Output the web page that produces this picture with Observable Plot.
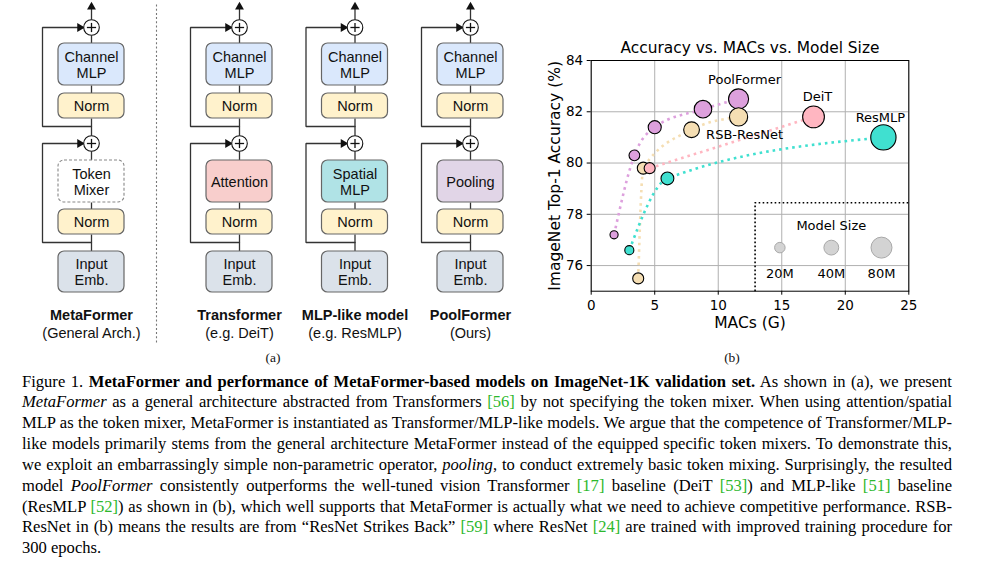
<!DOCTYPE html>
<html><head><meta charset="utf-8">
<script src="https://cdn.jsdelivr.net/npm/d3@7"></script>
<script src="https://cdn.jsdelivr.net/npm/@observablehq/plot@0.6"></script>
<style>
body{margin:0;background:#fff;width:986px;height:562px;position:relative;overflow:hidden;}
#diagram{position:absolute;left:0;top:0;width:540px;}
#chart{position:absolute;left:540px;top:30px;width:390px;}
.sub{position:absolute;font-family:"Liberation Serif",serif;font-size:13.5px;color:#111;transform:translate(-50%,-50%);}
#caption{position:absolute;left:22px;top:371.5px;width:930px;font-family:"Liberation Serif",serif;font-size:16.6px;line-height:20.85px;color:#000;}
#caption div{white-space:nowrap;text-align:left;text-align-last:left;transform-origin:left center;}
#caption div.just{text-align:justify;text-align-last:justify;}
.c{color:#2db82d;}
</style></head>
<body>
<div id="diagram"></div>
<div id="chart"></div>
<div class="sub" style="left:273px;top:358px">(a)</div>
<div class="sub" style="left:732px;top:358px">(b)</div>
<div id="caption"></div>
<script>
// ---------------- chart data ----------------
const families = ["PoolFormer", "RSB-ResNet", "DeiT", "ResMLP"];
const familyColors = ["#DDA0DD", "#F5DEB3", "#FFB6C1", "#40E0D0"];
const poolMACs = [1.8, 3.4, 5.0, 8.8, 11.6];
const poolAcc = [77.2, 80.3, 81.4, 82.1, 82.5];
const poolParams = [12, 21, 31, 56, 73];
const rsbMACs = [3.7, 4.1, 7.9, 11.6];
const rsbAcc = [75.5, 79.8, 81.3, 81.8];
const rsbParams = [22, 26, 45, 60];
const deitMACs = [4.6, 17.5];
const deitAcc = [79.8, 81.8];
const deitParams = [22, 86];
const resmlpMACs = [3.0, 6.0, 23.0];
const resmlpAcc = [76.6, 79.4, 81.0];
const resmlpParams = [15, 30, 116];
const xTicks = [0, 5, 10, 15, 20, 25];
const yTicks = [76, 78, 80, 82, 84];
const legendSizes = [20, 40, 80];
const legendLabels = ["20M", "40M", "80M"];

// ---------------- diagram data ----------------
const archNames = ["MetaFormer", "Transformer", "MLP-like model", "PoolFormer"];
const archSubtitles = ["(General Arch.)", "(e.g. DeiT)", "(e.g. ResMLP)", "(Ours)"];
const mixerLabels = ["Token\nMixer", "Attention", "Spatial\nMLP", "Pooling"];
const mixerFills = ["#ffffff", "#f8cecc", "#b0e3e6", "#e1d5e7"];

// ---------------- chart ----------------
const points = [];
function addFamily(name, macs, acc, params) {
  macs.forEach((m, i) => points.push({family: name, macs: m, acc: acc[i], params: params[i]}));
}
addFamily("PoolFormer", poolMACs, poolAcc, poolParams);
addFamily("RSB-ResNet", rsbMACs, rsbAcc, rsbParams);
addFamily("DeiT", deitMACs, deitAcc, deitParams);
addFamily("ResMLP", resmlpMACs, resmlpAcc, resmlpParams);

const lastPoints = families.map(f => points.filter(p => p.family === f).at(-1));
const labelOffsets = {"PoolFormer": [6, -19], "RSB-ResNet": [6, 18], "DeiT": [4, -20], "ResMLP": [-3, -20]};

// legend layout in data units
const legendCornerX = 12.9, legendTopY = 78.45;
const legendXs = [14.85, 18.9, 22.85];
const legendRows = legendSizes.map((s, i) => ({size: s, label: legendLabels[i], x: legendXs[i]}));

const font = "DejaVu Sans";
const chart = Plot.plot({
  width: 390, height: 303,
  marginLeft: 50.7, marginRight: 21.7, marginTop: 30, marginBottom: 42.3,
  style: {fontFamily: font, fontSize: "13.5px", color: "#000", background: "transparent"},
  x: {domain: [0, 25]},
  y: {domain: [75, 84]},
  r: {type: "sqrt", domain: [0, 80], range: [0, 10.5]},
  color: {domain: families, range: familyColors},
  marks: [
    Plot.gridX(xTicks, {stroke: "#b0b0b0", strokeOpacity: 1, strokeWidth: 1}),
    Plot.gridY(yTicks, {stroke: "#b0b0b0", strokeOpacity: 1, strokeWidth: 1}),
    Plot.axisX({ticks: xTicks, tickSize: 4, tickPadding: 5, label: null, fontSize: 13.5}),
    Plot.axisY({ticks: yTicks, tickSize: 4, tickPadding: 4, label: null, fontSize: 13.5}),
    Plot.line([{x: legendCornerX, y: 75}, {x: legendCornerX, y: legendTopY}, {x: 25, y: legendTopY}],
      {x: "x", y: "y", stroke: "#000", strokeWidth: 1.6, strokeDasharray: "1.6,2.4", strokeLinecap: "butt"}),
    Plot.text(["Model Size"], {x: legendXs[1], y: 77.56, fontSize: 13, fill: "#000"}),
    Plot.dot(legendRows, {x: "x", y: 76.7, r: "size", fill: "#d3d3d3", stroke: "#a8a8a8", strokeWidth: 1}),
    Plot.text(legendRows, {x: "x", y: 75.69, text: "label", fontSize: 13, fill: "#000"}),
    Plot.line(points, {x: "macs", y: "acc", z: "family", stroke: "family", curve: "monotone-x",
      strokeWidth: 2.6, strokeDasharray: "2.6,4", strokeLinecap: "butt"}),
    Plot.dot(points, {x: "macs", y: "acc", r: "params", fill: "family", stroke: "#000", strokeWidth: 1.1}),
    ...families.map((f, i) => Plot.text([lastPoints[i]], {x: "macs", y: "acc", text: d => d.family,
      dx: labelOffsets[f][0], dy: labelOffsets[f][1], fontSize: 13, fill: "#000"})),
    Plot.frame({stroke: "#000", strokeWidth: 1}),
    Plot.text(["Accuracy vs. MACs vs. Model Size"], {frameAnchor: "top", lineAnchor: "middle", dy: -12, fontSize: 15.4, fill: "#000"}),
    Plot.text(["ImageNet Top-1 Accuracy (%)"], {frameAnchor: "left", textAnchor: "middle", lineAnchor: "middle", rotate: -90, dx: -36.5, fontSize: 15.5, fill: "#000"}),
    Plot.text(["MACs (G)"], {frameAnchor: "bottom", lineAnchor: "middle", dy: 32, fontSize: 15.5, fill: "#000"})
  ]
});
document.getElementById("chart").append(chart);

// ---------------- diagram ----------------
const colX = i => i === 0 ? 91 : 239 + (i - 1) * 115.5;
const halfW = 33;
const L = {plus1: 27, chTop: 43, chBot: 85, n1Top: 93, n1Bot: 118, br1: 126, plus2: 143,
  mxTop: 160, mxBot: 202, n2Top: 209, n2Bot: 234, br2: 242, inTop: 251, inBot: 292,
  skipDx: 49, plusR: 7.8, name: 315, subtitle: 333};

const boxes = [], dashedBoxes = [], segs = [], plusMarks = [], skips = [], plusses = [], arrowsR = [], arrowsU = [], nameTexts = [];
archNames.forEach((name, i) => {
  const cx = colX(i);
  const mk = (y1, y2, fill, label) => ({x1: cx - halfW, x2: cx + halfW, y1, y2, fill, label, cx, cy: (y1 + y2) / 2});
  boxes.push(mk(L.chTop, L.chBot, "#dae8fc", "Channel\nMLP"));
  boxes.push(mk(L.n1Top, L.n1Bot, "#fff2cc", "Norm"));
  const mixer = mk(L.mxTop, L.mxBot, mixerFills[i], mixerLabels[i]);
  if (i === 0) dashedBoxes.push(mixer); else boxes.push(mixer);
  boxes.push(mk(L.n2Top, L.n2Bot, "#fff2cc", "Norm"));
  boxes.push(mk(L.inTop, L.inBot, "#dbe2ea", "Input\nEmb."));
  [[5, L.plus1 - L.plusR], [L.plus1 + L.plusR, L.chTop], [L.chBot, L.n1Top], [L.n1Bot, L.plus2 - L.plusR],
   [L.plus2 + L.plusR, L.mxTop], [L.mxBot, L.n2Top], [L.n2Bot, L.inTop]].forEach(([a, b]) =>
    segs.push({x1: cx, y1: a, x2: cx, y2: b}));
  [L.plus1, L.plus2].forEach(py => {
    plusses.push({x: cx, y: py});
    plusMarks.push({x1: cx - 4.6, y1: py, x2: cx + 4.6, y2: py});
    plusMarks.push({x1: cx, y1: py - 4.6, x2: cx, y2: py + 4.6});
  });
  [[L.br1, L.plus1], [L.br2, L.plus2]].forEach(([by, py], k) => {
    const id = name + k;
    const tipX = cx - L.plusR - 0.5;
    [[cx, by], [cx - L.skipDx, by], [cx - L.skipDx, py], [tipX - 5, py]].forEach(([x, y]) => skips.push({id, x, y}));
    arrowsR.push({x: tipX - 3.4, y: py});
  });
  arrowsU.push({x: cx, y: 6.5});
  nameTexts.push({x: cx, name, sub: archSubtitles[i]});
});
const boxTexts = [...boxes, ...dashedBoxes];

const ink = "#333";
const diagram = Plot.plot({
  width: 540, height: 345, margin: 0,
  style: {fontFamily: "Liberation Sans", fontSize: "14.5px", background: "transparent"},
  x: {axis: null, domain: [0, 540], range: [0, 540]},
  y: {axis: null, domain: [0, 345], range: [0, 345]},
  marks: [
    Plot.link([{x1: 156, y1: 4, x2: 156, y2: 343}], {x1: "x1", y1: "y1", x2: "x2", y2: "y2", stroke: "#777", strokeWidth: 1.1, strokeDasharray: "2,2.2"}),
    Plot.link(segs, {x1: "x1", y1: "y1", x2: "x2", y2: "y2", stroke: ink, strokeWidth: 1.3}),
    Plot.line(skips, {x: "x", y: "y", z: "id", stroke: ink, strokeWidth: 1.3, strokeLinejoin: "miter"}),
    Plot.dot(arrowsR, {x: "x", y: "y", symbol: "triangle", r: 3.3, rotate: 90, fill: "#111", stroke: "none"}),
    Plot.dot(arrowsU, {x: "x", y: "y", symbol: "triangle", r: 3.3, fill: "#111", stroke: "none"}),
    Plot.dot(plusses, {x: "x", y: "y", r: L.plusR, fill: "#fff", stroke: "#111", strokeWidth: 1.1}),
    Plot.link(plusMarks, {x1: "x1", y1: "y1", x2: "x2", y2: "y2", stroke: "#111", strokeWidth: 1.3}),
    Plot.rect(boxes, {x1: "x1", x2: "x2", y1: "y1", y2: "y2", fill: "fill", stroke: "#666", strokeWidth: 1.2, rx: 6}),
    Plot.rect(dashedBoxes, {x1: "x1", x2: "x2", y1: "y1", y2: "y2", fill: "fill", stroke: "#888", strokeWidth: 1.1, strokeDasharray: "3,2", rx: 6}),
    Plot.text(boxTexts, {x: "cx", y: "cy", text: "label", fontSize: 14.5, lineHeight: 1.1, fill: "#111"}),
    Plot.text(nameTexts, {x: "x", y: L.name, text: "name", fontSize: 14.5, fontWeight: "bold", fill: "#111"}),
    Plot.text(nameTexts, {x: "x", y: L.subtitle, text: "sub", fontSize: 14.5, fill: "#111"})
  ]
});
document.getElementById("diagram").append(diagram);

// ---------------- caption ----------------
const g = s => `<span class="c">${s}</span>`;
const captionLines = [
  `Figure 1. <b>MetaFormer and performance of MetaFormer-based models on ImageNet-1K validation set.</b> As shown in (a), we present`,
  `<i>MetaFormer</i> as a general architecture abstracted from Transformers ${g("[56]")} by not specifying the token mixer. When using attention/spatial`,
  `MLP as the token mixer, MetaFormer is instantiated as Transformer/MLP-like models. We argue that the competence of Transformer/MLP-`,
  `like models primarily stems from the general architecture MetaFormer instead of the equipped specific token mixers. To demonstrate this,`,
  `we exploit an embarrassingly simple non-parametric operator, <i>pooling</i>, to conduct extremely basic token mixing. Surprisingly, the resulted`,
  `model <i>PoolFormer</i> consistently outperforms the well-tuned vision Transformer ${g("[17]")} baseline (DeiT ${g("[53]")}) and MLP-like ${g("[51]")} baseline`,
  `(ResMLP ${g("[52]")}) as shown in (b), which well supports that MetaFormer is actually what we need to achieve competitive performance. RSB-`,
  `ResNet in (b) means the results are from “ResNet Strikes Back” ${g("[59]")} where ResNet ${g("[24]")} are trained with improved training procedure for`,
  `300 epochs.`
];
const cap = document.getElementById("caption");
const lineDivs = captionLines.map((t) => {
  const d = document.createElement("div");
  const s = document.createElement("span");
  s.innerHTML = t;
  d.append(s);
  cap.append(d);
  return {d, s};
});
// measure natural widths (unjustified), then condense uniformly so the tightest line just fits
const natural = lineDivs.slice(0, -1).map(o => o.s.getBoundingClientRect().width);
const maxW = Math.max(...natural) * 1.005;
const scale = Math.min(1, 930 / maxW);
lineDivs.forEach(({d}, i) => {
  d.style.width = (930 / scale) + "px";
  d.style.transform = `scaleX(${scale})`;
  if (i < lineDivs.length - 1) d.className = "just";
});
</script>
</body></html>
